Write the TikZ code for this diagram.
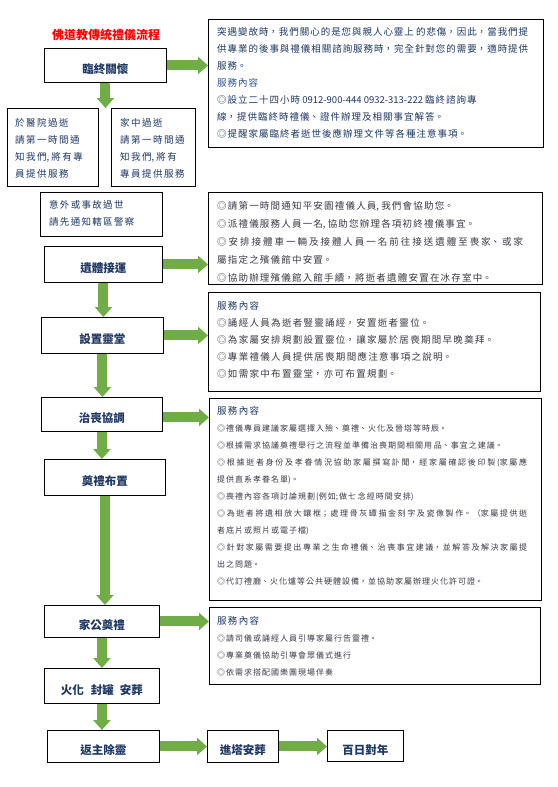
\documentclass[tikz,border=0pt]{standalone}
\usepackage{fontspec}
\setmainfont{Noto Sans CJK TC}
\usetikzlibrary{arrows.meta}
\XeTeXlinebreaklocale "zh"
\XeTeXlinebreakskip=0pt plus 1pt
\definecolor{arrowgreen}{HTML}{70AD47}
\definecolor{navy}{HTML}{1F3864}
\definecolor{bodygray}{HTML}{3A3A44}
\definecolor{svcblue}{HTML}{2F5597}
\definecolor{titlered}{HTML}{FF0000}
\newcommand{\lsp}[1]{\XeTeXlinebreakskip=#1 plus 3pt minus 1pt\relax}
\newcommand{\dn}[1]{\raisebox{-4pt}[\height][\depth]{#1}}
\newcommand{\tblock}[3]{\parbox[t]{#1}{\parindent=0pt\tolerance=9999\hbadness=10000\fontsize{#2}{17}\selectfont\leavevmode #3}}
\tikzset{
  stepbox/.style={draw=black, line width=0.9pt, anchor=north west, inner sep=0pt,
    font=\fontsize{11.5}{14}\selectfont\bfseries\lsp{1.5pt}, text=navy},
  infobox/.style={draw=black, line width=1.1pt, anchor=north west, inner sep=0pt},
  notebox/.style={draw=black, line width=0.9pt, anchor=north west, inner sep=0pt},
  txt/.style={anchor=base west, inner sep=0pt},
  flow/.style={draw=arrowgreen, line width=10pt, -{Triangle[length=10pt,width=17pt]}},
}
\begin{document}
\begin{tikzpicture}[x=1pt,y=-1pt]
\useasboundingbox (0,0) rectangle (557,787);
\fill[white] (0,0) rectangle (557,787);

% title
\node[inner sep=0pt, text=titlered, font=\fontsize{12}{14}\selectfont\bfseries\lsp{1pt}] (title) at (106,35) {佛道教傳統禮儀流程};

% left column steps
\node[stepbox, minimum width=122pt, minimum height=34pt] (n1) at (44,48) {\dn{臨終關懷}};
\node[notebox, minimum width=91pt, minimum height=78pt] (d1) at (7,108) {};
\node[notebox, minimum width=84pt, minimum height=78pt] (d2) at (111,108) {};
\node[notebox, minimum width=122pt, minimum height=44pt] (acc) at (40,192) {};
\node[stepbox, minimum width=118pt, minimum height=36pt] (n2) at (44,246) {\dn{遺體接運}};
\node[stepbox, minimum width=122pt, minimum height=36pt] (n3) at (41,317) {\dn{設置靈堂}};
\node[stepbox, minimum width=121pt, minimum height=34pt] (n4) at (41,397) {\dn{治喪協調}};
\node[stepbox, minimum width=121pt, minimum height=36pt] (n5) at (44,459) {\dn{奠禮布置}};
\node[stepbox, minimum width=115pt, minimum height=32pt] (n6) at (44,605) {\dn{家公奠禮}};
\node[stepbox, minimum width=115pt, minimum height=35pt] (n7) at (44,668) {\dn{火化\hspace{7pt}封罐\hspace{6pt}安葬}};
\node[stepbox, minimum width=112pt, minimum height=32pt] (n8) at (47,730) {\dn{返主除靈}};
\node[stepbox, minimum width=71pt, minimum height=32pt] (n9) at (207,730) {\dn{進塔安葬}};
\node[stepbox, minimum width=76pt, minimum height=31pt] (n10) at (327,730) {\dn{百日對年}};

% note texts in left boxes
\node[txt, text=navy] (d1t) at (15,126) {\tblock{80pt}{9.5}{\lsp{1.5pt}於醫院過逝\\請第一時間通\\知我們, 將有專\\員提供服務}};
\node[txt, text=navy] (d2t) at (120,126) {\tblock{74pt}{9.5}{\lsp{1.5pt}家中過逝\\請第一時間通\\知我們, 將有\\專員提供服務}};
\node[txt, text=navy] (acct) at (49,208) {\tblock{110pt}{9.5}{\lsp{1.3pt}意外或事故過世\\請先通知轄區警察}};

% right info boxes
\node[infobox, minimum width=335pt, minimum height=128pt] (r1) at (208,19) {};
\node[infobox, minimum width=334pt, minimum height=92pt] (r2) at (208,192) {};
\node[infobox, minimum width=332pt, minimum height=99pt] (r3) at (208,292) {};
\node[infobox, minimum width=332pt, minimum height=202pt] (r4) at (209,398) {};
\node[infobox, minimum width=331pt, minimum height=77pt] (r5) at (209,607) {};

\node[txt, text=navy] (r1t) at (217,35) {\tblock{311pt}{9.5}{\lsp{1pt}%
突遇變故時，我們關心的是您與親人心靈上 的悲傷，因此，當我們提\linebreak
供專業的後事與禮儀相關諮詢服務時，完全針對您的需要，適時提供\linebreak
服務。\\
{\color{svcblue}服務內容}\\
◎設立二十四小時 0912-900-444 0932-313-222 臨終諮詢專\\
線，提供臨終時禮儀、證件辦理及相關事宜解答。\\
◎提醒家屬臨終者逝世後應辦理文件等各種注意事項。}};

\node[txt, text=bodygray] (r2t) at (217,209) {\parbox[t]{306pt}{\parindent=0pt\tolerance=9999\hbadness=10000\fontsize{9.5}{18}\selectfont\lsp{1.2pt}\leavevmode
◎請第一時間通知平安園禮儀人員, 我們會協助您。\\
◎派禮儀服務人員一名, 協助您辦理各項初終禮儀事宜。\\
◎安排接體車一輛及接體人員一名前往接送遺體至喪家、或家\linebreak
屬指定之殯儀館中安置。\\
◎協助辦理殯儀館入館手續，將逝者遺體安置在冰存室中。}};

\node[txt, text=bodygray] (r3t) at (217,309) {\tblock{306pt}{9.5}{\lsp{1.3pt}%
{\color{navy}服務內容}\\
◎誦經人員為逝者豎靈誦經，安置逝者靈位。\\
◎為家屬安排規劃設置靈位，讓家屬於居喪期間早晚奠拜。\\
◎專業禮儀人員提供居喪期間應注意事項之說明。\\
◎如需家中布置靈堂，亦可布置規劃。}};

\node[txt, text=bodygray] (r4t) at (217,414) {\tblock{310pt}{9.5}{\lsp{1.3pt}%
{\color{navy}服務內容}\\
\fontsize{8}{17}\selectfont\lsp{1pt}%
◎禮儀專員建議家屬選擇入殮、奠禮、火化及晉塔等時辰。\\
◎根據需求協議奠禮舉行之流程並準備治喪期間相關用 品、事宜之建議。\\
◎根據逝者身份及孝眷情況協助家屬撰寫訃聞，經家屬確認後印製(家屬應\linebreak
提供直系孝眷名單)。\\
◎喪禮內容各項討論規劃(例如;做七 念經時間安排)\\
◎為逝者將遺相放大鑲框；處理骨灰罈描金刻字及瓷像製作。（家屬提供逝\linebreak
者底片或照片或電子檔)\\
◎針對家屬需要提出專業之生命禮儀、治喪事宜建議，並解答及解決家屬提\linebreak
出之問題。\\
◎代訂禮廳、火化爐等公共硬體設備，並協助家屬辦理火化許可證。}};

\node[txt, text=bodygray] (r5t) at (217,624) {\tblock{306pt}{9.5}{\lsp{1.3pt}%
{\color{navy}服務內容}\\
\fontsize{8}{17}\selectfont\lsp{1pt}%
◎請司儀或誦經人員引導家屬行告靈禮。\\
◎專業奠儀協助引導會眾儀式進行\\
◎依需求搭配國樂團現場伴奏}};

% arrows
\draw[flow] (n1.east) -- (n1.east -| r1.west);
\draw[flow] (n1.south) -- (n1.south |- d1.north);
\draw[flow] (n2.east) -- (n2.east -| r2.west);
\draw[flow] (n2.south) -- (n2.south |- n3.north);
\draw[flow] (n3.east) -- (n3.east -| r3.west);
\draw[flow] (n3.south) -- (n3.south |- n4.north);
\draw[flow] ([yshift=-3pt]n4.east) -- ([yshift=-3pt]n4.east -| r4.west);
\draw[flow] (n4.south) -- (n4.south |- n5.north);
\draw[flow] (n5.south) -- (n5.south |- n6.north);
\draw[flow] (n6.east) -- (n6.east -| r5.west);
\draw[flow] (n6.south) -- (n6.south |- n7.north);
\draw[flow] (n7.south) -- (n7.south |- n8.north);
\draw[flow] (n8.east) -- (n8.east -| n9.west);
\draw[flow] (n9.east) -- (n9.east -| n10.west);
\end{tikzpicture}
\end{document}
